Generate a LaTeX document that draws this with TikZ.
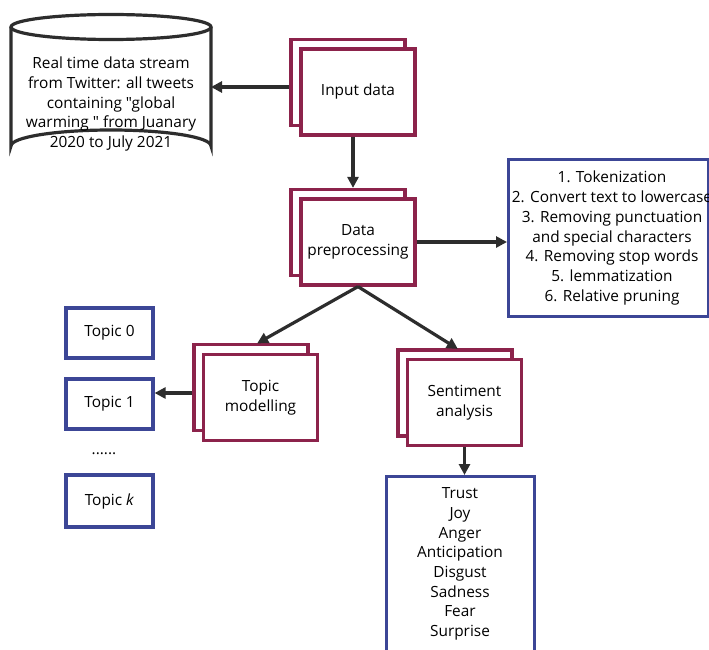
\documentclass[tikz,border=0pt]{standalone}
\usepackage{fontspec}
\setmainfont{Open Sans}[Ligatures=TeXOff]
\usetikzlibrary{arrows.meta}
\definecolor{maroon}{RGB}{140,35,75}
\definecolor{navyb}{RGB}{60,70,150}
\definecolor{arrc}{RGB}{45,45,45}
\tikzset{
  txt/.style={font=\fontsize{15.4}{19.7}\selectfont, align=center, inner sep=0pt},
  mbox/.style={draw=maroon, line width=3.2pt, fill=white, minimum width=114pt, minimum height=86pt, inner sep=0pt, txt},
  bbox/.style={draw=navyb, line width=3.2pt, fill=white, inner sep=0pt, txt},
  arr/.style={draw=arrc, line width=3.2pt, -{Triangle[length=11pt,width=11pt]}},
}
\begin{document}
\begin{tikzpicture}[x=1pt,y=-1pt]
\useasboundingbox (0,0) rectangle (709,650);
% cylinder
\draw[arrc, line width=3.2pt, fill=white] (11,27) -- (11,146) arc[start angle=180,end angle=360,x radius=100,y radius=16] -- (211,27);
\draw[arrc, line width=3.2pt] (111,27) ellipse[x radius=100, y radius=12.5];
\node[txt] (src) at (111,104) {Real time data stream\\from Twitter: all tweets\\containing "global\\warming " from Juanary\\2020 to July 2021};
\coordinate (srcE) at (211,87);
% input data
\node[mbox] (inB) at (348,82.5) {};
\node[mbox] (inF) at (358,92) {Input data};
% data preprocessing
\node[mbox] (dpB) at (348,232.5) {};
\node[mbox] (dpF) at (358,242) {Data\\preprocessing};
% list box
\node[bbox, minimum width=200pt, minimum height=157pt, anchor=north west] (list) at (507,158) {};
\node[txt] (listT) at (612,238) {1. Tokenization\\2. Convert text to lowercase\\3. Removing punctuation\\and special characters\\4. Removing stop words\\5. lemmatization\\6. Relative pruning};
% topic modelling
\node[mbox] (tmB) at (251,387.5) {};
\node[mbox] (tmF) at (260.5,397.5) {Topic\\modelling};
% sentiment
\node[mbox] (saB) at (455,393) {};
\node[mbox] (saF) at (464.5,402.5) {Sentiment\\analysis};
% topics
\node[bbox, minimum width=87pt, minimum height=50pt] (t0) at (109.5,333) {Topic 0};
\node[bbox, minimum width=87pt, minimum height=50pt] (t1) at (109.5,404) {Topic 1};
\node[txt] (dots) at (104,454) {......};
\node[bbox, minimum width=87pt, minimum height=52pt] (tk) at (109.5,501) {Topic \textit{k}};
% emotions
\node[bbox, minimum width=148pt, minimum height=190pt, anchor=north west] (emo) at (385,475) {};
\node[txt] (emoT) at (460,564) {Trust\\Joy\\Anger\\Anticipation\\Disgust\\Sadness\\Fear\\Surprise};
% connectors
\draw[arr] (inB.west|-srcE) -- (srcE);
\draw[arr] (inF.south-|353,0) -- (dpB.north-|353,0);
\draw[arr] (dpF.east) -- (list.west|-dpF.east);
\draw[arr, shorten >=-1pt] (dpF.south) -- (tmB.north-|258,0);
\draw[arr, shorten >=-1pt] (dpF.south) -- (saB.north-|457,0);
\draw[arr] (tmB.west|-0,393) -- (t1.east|-0,393);
\draw[arr] (saF.south) -- (emo.north-|saF.south);
\end{tikzpicture}
\end{document}
